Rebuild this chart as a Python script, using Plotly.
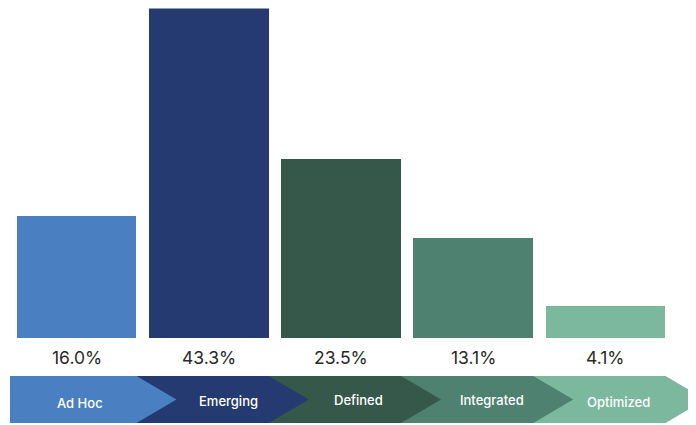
import plotly.graph_objects as go

categories = ["Ad Hoc", "Emerging", "Defined", "Integrated", "Optimized"]
values = [16.0, 43.3, 23.5, 13.1, 4.1]
value_labels = ["16.0%", "43.3%", "23.5%", "13.1%", "4.1%"]
colors = ["#4a7fc1", "#253a70", "#36584b", "#4e8170", "#7bb89e"]

OFF = 8  # default page body margin
W, H = 696 - OFF, 425 - OFF
x_idx = list(range(len(categories)))


def py(p):
    """page pixel row -> paper y"""
    return 1 - (p - OFF) / H


fig = go.Figure()
fig.add_trace(go.Bar(
    x=x_idx, y=values, width=0.905,
    marker=dict(color=colors, line=dict(width=0)),
    hoverinfo="skip", showlegend=False,
))

px_per_unit = 132.25
c0 = 76.5 - OFF  # centre of first bar in figure pixels
half_w = 0.4537
tip = 40 / px_per_unit
first_left = (10 - 76.5) / px_per_unit
y_top, y_bot = py(376), py(423)
y_mid = (y_top + y_bot) / 2

shapes = []
for i in reversed(x_idx):
    left = first_left if i == 0 else (i - 1) + half_w
    right = i + half_w
    t = right + tip
    path = (f"M {left},{y_top} L {right},{y_top} L {t},{y_mid} "
            f"L {right},{y_bot} L {left},{y_bot} Z")
    shapes.append(dict(type="path", path=path, xref="x", yref="paper",
                       fillcolor=colors[i], line=dict(width=0), layer="above"))

annotations = []
for i, lab in enumerate(value_labels):
    annotations.append(dict(x=i, y=py(357), xref="x", yref="paper",
                            text=lab, showarrow=False,
                            font=dict(family="Inter, Roboto, sans-serif", size=17.5,
                                      color="#2a2a2a", weight=400),
                            xanchor="center", yanchor="middle"))
label_y = [403, 401, 400, 400, 402]
label_dx = [0.03, 0.15, 0.13, 0.14, 0.10]
for i, cat in enumerate(categories):
    annotations.append(dict(x=i + label_dx[i], y=py(label_y[i]), xref="x", yref="paper",
                            text=cat, showarrow=False,
                            font=dict(family="Inter, Roboto, sans-serif", size=13,
                                      color="white", weight=500),
                            xanchor="center", yanchor="middle"))

px_per_val = 7.61
top_px = 338 - max(values) * px_per_val

fig.update_layout(
    width=W, height=H,
    margin=dict(l=0, r=0, t=0, b=0),
    paper_bgcolor="white", plot_bgcolor="white",
    xaxis=dict(range=[-c0 / px_per_unit, (W - c0) / px_per_unit],
               visible=False, fixedrange=True),
    yaxis=dict(range=[0, max(values)], domain=[py(338), py(top_px)],
               visible=False, fixedrange=True),
    shapes=shapes, annotations=annotations,
    bargap=0,
)

fig.write_html("out.html", config={"displayModeBar": False})
